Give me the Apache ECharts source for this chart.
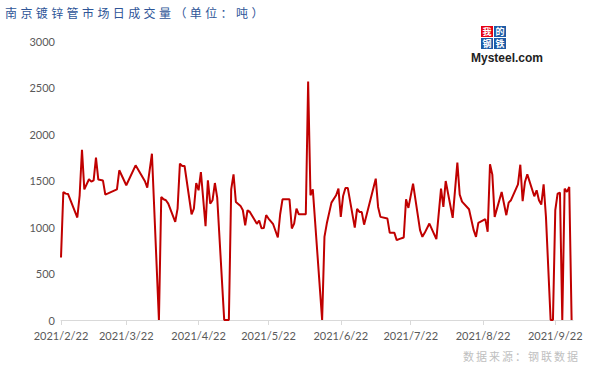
<!DOCTYPE html>
<html><head><meta charset="utf-8">
<script src="https://cdn.jsdelivr.net/npm/echarts@6/dist/echarts.min.js"></script>
<style>html,body{margin:0;padding:0;background:#fff}#c{width:601px;height:372px}</style>
</head><body><div id="c"></div>
<script>
const titleText = '南京镀锌管市场日成交量（单位：吨）';
const sourceText = '数据来源：钢联数据';
const logoChars = ['我', '的', '钢', '铁'];
const logoWord = 'Mysteel.com';
const tickDates = ['2021/2/22','2021/3/22','2021/4/22','2021/5/22','2021/6/22','2021/7/22','2021/8/22','2021/9/22'];
const dates = ['2021/2/22','2021/2/23','2021/2/24','2021/2/25','2021/3/1','2021/3/2','2021/3/3','2021/3/4','2021/3/6','2021/3/7','2021/3/8','2021/3/9','2021/3/10','2021/3/12','2021/3/13','2021/3/18','2021/3/19','2021/3/22','2021/3/26','2021/3/30','2021/3/31','2021/4/2','2021/4/5','2021/4/6','2021/4/7','2021/4/8','2021/4/9','2021/4/12','2021/4/13','2021/4/14','2021/4/15','2021/4/16','2021/4/19','2021/4/20','2021/4/21','2021/4/22','2021/4/23','2021/4/25','2021/4/26','2021/4/27','2021/4/28','2021/4/29','2021/4/30','2021/5/3','2021/5/5','2021/5/6','2021/5/7','2021/5/8','2021/5/10','2021/5/11','2021/5/12','2021/5/13','2021/5/14','2021/5/16','2021/5/17','2021/5/18','2021/5/19','2021/5/20','2021/5/21','2021/5/22','2021/5/24','2021/5/26','2021/5/27','2021/5/28','2021/5/31','2021/6/1','2021/6/2','2021/6/3','2021/6/4','2021/6/7','2021/6/8','2021/6/9','2021/6/10','2021/6/14','2021/6/15','2021/6/16','2021/6/18','2021/6/20','2021/6/21','2021/6/22','2021/6/23','2021/6/24','2021/6/25','2021/6/28','2021/6/29','2021/6/30','2021/7/1','2021/7/2','2021/7/7','2021/7/8','2021/7/9','2021/7/12','2021/7/13','2021/7/15','2021/7/16','2021/7/17','2021/7/19','2021/7/20','2021/7/21','2021/7/23','2021/7/26','2021/7/27','2021/7/28','2021/7/30','2021/8/2','2021/8/4','2021/8/5','2021/8/6','2021/8/9','2021/8/11','2021/8/12','2021/8/13','2021/8/16','2021/8/18','2021/8/19','2021/8/20','2021/8/23','2021/8/24','2021/8/25','2021/8/26','2021/8/27','2021/8/30','2021/9/1','2021/9/2','2021/9/3','2021/9/6','2021/9/7','2021/9/8','2021/9/9','2021/9/10','2021/9/13','2021/9/14','2021/9/15','2021/9/16','2021/9/17','2021/9/18','2021/9/20','2021/9/21','2021/9/22','2021/9/23','2021/9/24','2021/9/25','2021/9/26','2021/9/27','2021/9/28','2021/9/29'];
const volumes = [673,1377,1359,1355,1102,1341,1831,1405,1513,1488,1502,1746,1510,1499,1349,1405,1610,1449,1663,1492,1424,1788,0,1323,1298,1288,1252,1055,1198,1681,1656,1656,1137,1198,1473,1395,1591,1009,1502,1252,1288,1473,1316,0,0,1405,1566,1270,1227,1180,1019,1180,1162,1078,1034,1070,987,989,1127,1091,1030,887,1137,1298,1298,984,1037,1198,1137,1137,2564,1341,1405,0,894,1037,1262,1341,1412,1109,1334,1420,1420,994,1195,1162,1160,1025,1520,1216,1109,1091,937,937,858,869,887,1298,1205,1466,966,894,937,1037,869,1412,1216,1495,1098,1692,1350,1273,1191,966,894,1044,1084,948,1674,1563,1109,1377,1127,1262,1288,1459,1670,1277,1484,1566,1330,1395,1288,1241,1459,1109,0,0,1180,1359,1370,0,1412,1377,1430,0];
const yMin = 0, yMax = 3000, yStep = 500;

const DAY = 86400000;
function toTime(s) { const p = s.split('/').map(Number); return Date.UTC(p[0], p[1] - 1, p[2]); }
const base = toTime(tickDates[0]);
function toDay(s) { return Math.round((toTime(s) - base) / DAY); }
function fmt(v) { const d = new Date(base + Math.round(v) * DAY); return d.getUTCFullYear() + '/' + (d.getUTCMonth() + 1) + '/' + d.getUTCDate(); }

const chart = echarts.init(document.getElementById('c'), null, { renderer: 'svg', width: 601, height: 372 });
const labelColor = '#595959';
const logoColors = ['#e60012', '#1d5ba6', '#1d5ba6', '#1d5ba6'];
const logoEls = logoChars.map((ch, i) => ({
  type: 'group', left: 481 + (i % 2) * 13, top: 26 + Math.floor(i / 2) * 12,
  children: [
    { type: 'rect', shape: { x: 0, y: 0, width: 12, height: 11 }, style: { fill: logoColors[i] } },
    { type: 'text', x: 6, y: 5.5, style: { text: ch, fill: '#fff', font: 'bold 9px "Noto Sans CJK SC"', lineHeight: 9, align: 'center', verticalAlign: 'middle' } }
  ]
}));
const tickDays = tickDates.map(toDay);
chart.setOption({
  animation: false,
  backgroundColor: '#fff',
  grid: { left: 61, right: 28, top: 41, bottom: 52, containLabel: false },
  graphic: [
    { type: 'text', id: 'ttl', left: 5, top: 6, style: { text: titleText, fill: '#2e5597', font: '12px "Noto Sans CJK SC"' } },
    { type: 'text', id: 'src', left: 463, top: 350, style: { text: sourceText, fill: '#c0c0c0', font: '11px "Noto Sans CJK SC"' } },
    ...logoEls,
    { type: 'text', left: 471, top: 52, style: { text: logoWord, fill: '#222', font: 'bold 12px "Liberation Sans"' } }
  ],
  xAxis: {
    type: 'value',
    min: 0,
    max: toDay(dates[dates.length - 1]) + 0.6,
    axisLine: { show: true, lineStyle: { color: '#d9d9d9', width: 1 } },
    axisTick: { show: true, customValues: tickDays, length: 5, lineStyle: { color: '#d9d9d9' } },
    axisLabel: { customValues: tickDays, formatter: fmt, color: labelColor, fontSize: 11, fontFamily: 'Lato', margin: 10, hideOverlap: false },
    splitLine: { show: false }
  },
  yAxis: {
    type: 'value', min: yMin, max: yMax, interval: yStep,
    axisLine: { show: false }, axisTick: { show: false }, splitLine: { show: false },
    axisLabel: { color: labelColor, fontSize: 11, fontFamily: 'Lato', margin: 6, formatter: v => String(v) }
  },
  series: [{
    type: 'line', showSymbol: false, symbol: 'none',
    data: dates.map((d, i) => [toDay(d), volumes[i]]),
    lineStyle: { color: '#c00000', width: 2 }, itemStyle: { color: '#c00000' }
  }]
});
function spacing() {
  document.querySelectorAll('#c svg text').forEach(t => {
    if (t.textContent === titleText) { t.style.letterSpacing = '3.4px'; t.setAttribute('letter-spacing', '3.4'); }
    if (t.textContent === sourceText) { t.style.letterSpacing = '2px'; t.setAttribute('letter-spacing', '2'); }
  });
}
spacing();
chart.on('finished', spacing);
setTimeout(spacing, 50);
</script>
</body></html>
